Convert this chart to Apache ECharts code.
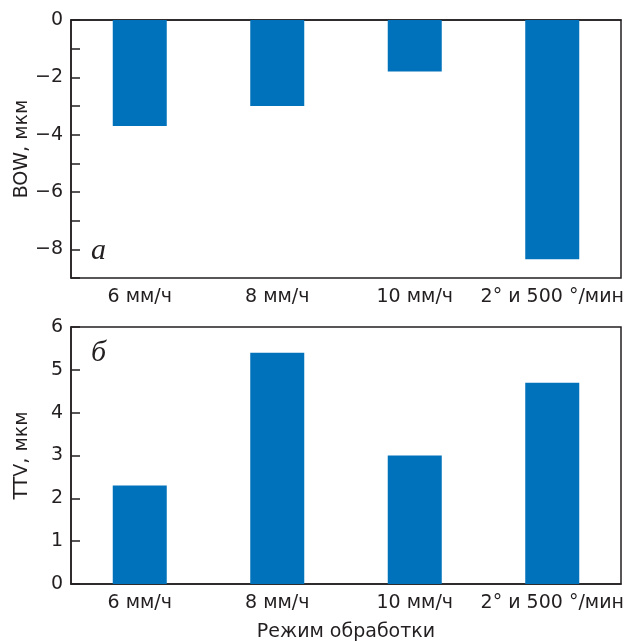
<!DOCTYPE html>
<html>
<head>
<meta charset="utf-8">
<script src="https://cdn.jsdelivr.net/npm/echarts@6/dist/echarts.min.js"></script>
<style>
  html, body { margin: 0; padding: 0; background: #fff; }
  #chart { width: 630px; height: 641px; }
</style>
</head>
<body>
<div id="chart"></div>
<script>
// режимы обработки
var categories = ['6 мм/ч', '8 мм/ч', '10 мм/ч', '2° и 500 °/мин'];
// BOW, мкм (панель а)
var bowValues = [-3.7, -3.0, -1.8, -8.35];
// TTV, мкм (панель б)
var ttvValues = [2.3, 5.4, 3.0, 4.7];

var font = '"DejaVu Sans", "Liberation Sans", sans-serif';
var ink = '#231f20';
var barColor = '#0071bb';

var chart = echarts.init(document.getElementById('chart'));

function catAxis(idx, withName) {
  return {
    type: 'category',
    gridIndex: idx,
    data: categories,
    axisLine: { lineStyle: { color: ink, width: 1.5 } },
    axisTick: { inside: true, length: 9, lineStyle: { color: ink, width: 1.5 } },
    axisLabel: { interval: 0, color: ink, fontFamily: font, fontSize: 19, margin: 10 },
    name: withName ? 'Режим обработки' : '',
    nameLocation: 'middle',
    nameGap: 39,
    nameTextStyle: { color: ink, fontFamily: font, fontSize: 19 }
  };
}

function valAxis(idx, min, max, name, showLabel) {
  return {
    type: 'value',
    gridIndex: idx,
    min: min,
    max: max,
    interval: 1,
    splitLine: { show: false },
    axisLine: { show: true, lineStyle: { color: ink, width: 1.5 } },
    axisTick: { show: true, inside: true, length: 9, lineStyle: { color: ink, width: 1.5 } },
    axisLabel: {
      color: ink, fontFamily: font, fontSize: 19, margin: 8,
      formatter: function (v) {
        if (!showLabel(v)) return '';
        return v < 0 ? '\u2212' + Math.abs(v) : String(v);
      }
    },
    name: name,
    nameLocation: 'middle',
    nameGap: 39,
    nameRotate: 90,
    nameMoveOverlap: false,
    nameTextStyle: { color: ink, fontFamily: font, fontSize: 19 }
  };
}

chart.setOption({
  backgroundColor: '#fff',
  animation: false,
  title: [
    { text: 'а', left: 86, top: 231,
      textStyle: { fontFamily: '"Liberation Serif", "DejaVu Serif", serif', fontStyle: 'italic', fontWeight: 'normal', fontSize: 30, color: ink } },
    { text: 'б', left: 86, top: 333,
      textStyle: { fontFamily: '"Liberation Serif", "DejaVu Serif", serif', fontStyle: 'italic', fontWeight: 'normal', fontSize: 30, color: ink } }
  ],
  grid: [
    { left: 71, top: 20, width: 550, height: 258, show: true, borderColor: ink, borderWidth: 1.5,
      outerBoundsMode: 'none', containLabel: false },
    { left: 71, top: 327, width: 550, height: 257, show: true, borderColor: ink, borderWidth: 1.5,
      outerBoundsMode: 'none', containLabel: false }
  ],
  xAxis: [catAxis(0, false), catAxis(1, true)],
  yAxis: [
    valAxis(0, -9, 0, 'BOW, мкм', function (v) { return v % 2 === 0; }),
    valAxis(1, 0, 6, 'TTV, мкм', function () { return true; })
  ],
  series: [
    { type: 'bar', xAxisIndex: 0, yAxisIndex: 0, data: bowValues, barWidth: 54,
      itemStyle: { color: barColor } },
    { type: 'bar', xAxisIndex: 1, yAxisIndex: 1, data: ttvValues, barWidth: 54,
      itemStyle: { color: barColor } }
  ]
});
</script>
</body>
</html>
